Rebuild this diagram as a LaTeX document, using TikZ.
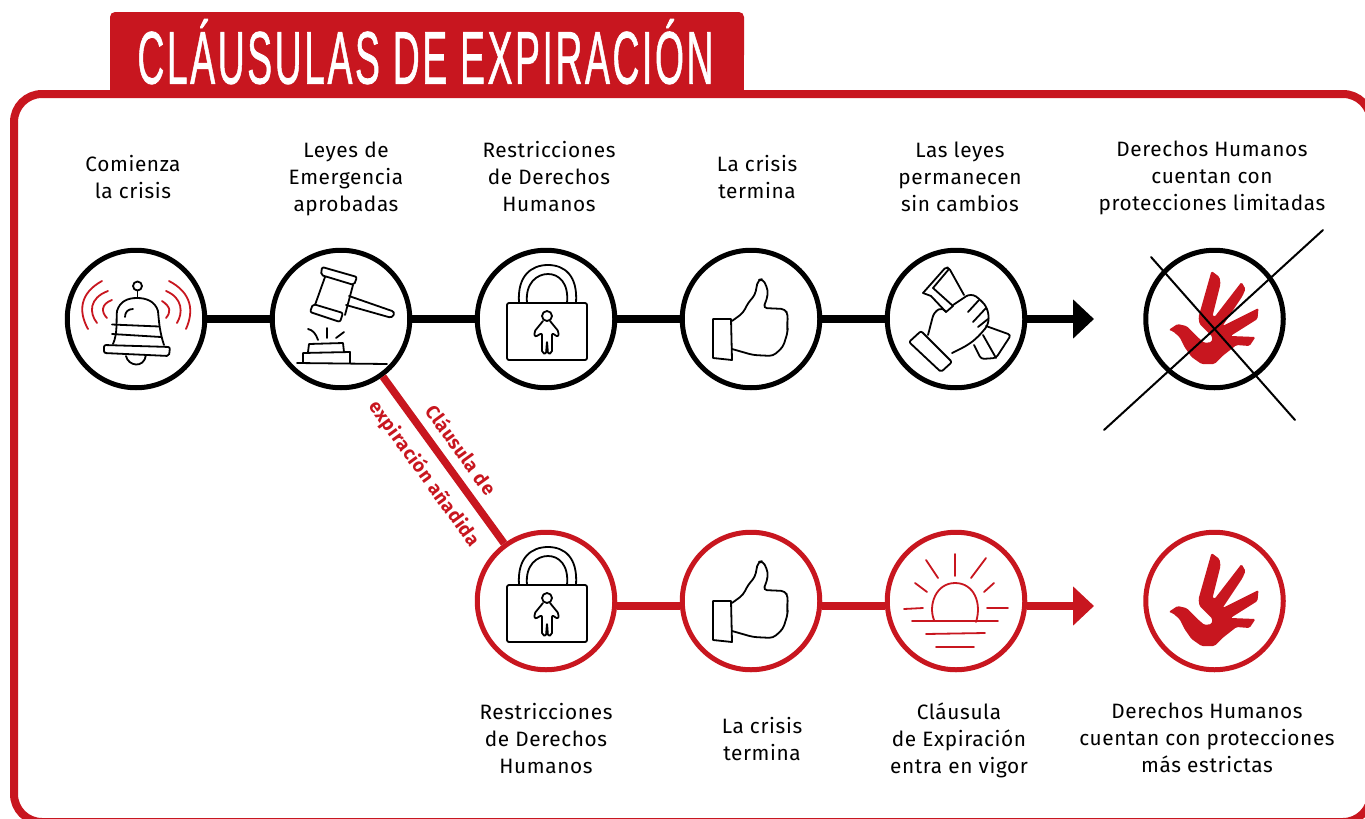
\documentclass[tikz,border=0pt]{standalone}
\usepackage{fontspec}
\setmainfont[LetterSpace=3]{Fira Sans}
\newfontfamily\titlefont[LetterSpace=7,FakeBold=1.2]{Liberation Sans}
\newfontfamily\slantfont[LetterSpace=3]{Fira Sans}
\usepackage{tikz}
\usetikzlibrary{positioning,arrows.meta,calc}
\definecolor{crimson}{HTML}{C8161F}
\tikzset{
  sketch/.style={line width=1.8pt, line join=round, line cap=round},
  pics/bellicon/.style={code={
    \draw[sketch, fill=white] (1.5,-33) circle (4.5);
    \draw[sketch] (1.5,-28.5) -- (1.5,-22);
    \draw[sketch] (-23,25) .. controls (-18,14) and (-20,0) .. (-19,-8)
      .. controls (-16,-18) and (-8,-21) .. (1,-21)
      .. controls (10,-21) and (19,-18) .. (22,-8)
      .. controls (23,4) and (24,14) .. (28,26);
    \draw[sketch] (-24,5.5) -- (23,7.5);
    \draw[sketch] (-24,15) -- (25,18);
    \draw[sketch, rounded corners=2pt] (-32,26) -- (-32,34) -- (33,37) -- (34,28) -- cycle;
    \draw[sketch] (-10,37) .. controls (-8,47) and (8,50) .. (10,36);
    \draw[sketch] (-11,-2) .. controls (-11,-7) and (-8,-10) .. (-3,-10);
    \draw[sketch, crimson] (-34,-38) .. controls (-56,-26) and (-58,-8) .. (-48,10);
    \draw[sketch, crimson] (-28,-28) .. controls (-47,-21) and (-47,-6) .. (-39,4);
    \draw[sketch, crimson] (-24,-19) .. controls (-35,-15) and (-35,-7) .. (-29,-1);
    \draw[sketch, crimson] (33,-38) .. controls (56,-26) and (58,-8) .. (50,10);
    \draw[sketch, crimson] (30,-28) .. controls (47,-21) and (47,-6) .. (41,4);
    \draw[sketch, crimson] (26,-18) .. controls (35,-12) and (35,-7) .. (30,-1);
  }},
  pics/gavelicon/.style={code={
    \draw[sketch, rounded corners=2pt] (-19,-52) -- (16,-42) -- (13,-34) -- (-20,-44) -- cycle;
    \draw[sketch] (-16,-42) -- (-26,-14);
    \draw[sketch] (12,-34) -- (4,-4);
    \draw[sketch, rounded corners=2pt] (-28,-15) -- (2,-6) -- (-1,3) -- (-31,-7) -- cycle;
    \draw[sketch, rounded corners=3pt] (8,-23) -- (54,-7) -- (51,-1) -- (5,-14);
    \draw[sketch] (-33,33) -- (-32,25) -- (2,24) -- (3,33);
    \draw[sketch] (-38,44) -- (-38,34) -- (9,33) -- (9,44);
    \draw[sketch] (-44,44) -- (46,45);
    \draw[sketch] (-33,10) .. controls (-28,11) and (-25,15) .. (-23,21);
    \draw[sketch] (-14,9) -- (-14,19);
    \draw[sketch] (3,13) -- (-5,19);
  }},
  pics/lockicon/.style={code={
    \draw[sketch, rounded corners=2pt] (-39,-16) rectangle (41,41);
    \draw[sketch] (-27,-16) .. controls (-29,-44) and (-14,-54) .. (2,-54)
      .. controls (18,-54) and (32,-44) .. (30,-16);
    \draw[sketch] (-19,-16) .. controls (-21,-36) and (-9,-45) .. (2,-45)
      .. controls (13,-45) and (23,-36) .. (21,-16);
    \draw[sketch] (1,-3) circle (5);
    \draw[sketch, rounded corners=2pt] (-3,2) -- (-12,13) -- (-11,18) -- (-4,14) -- (-4,34)
      -- (0,35) -- (1,22) -- (2,35) -- (6,34) -- (6,14) -- (12,18) -- (13,13) -- (4,2);
  }},
  pics/thumbicon/.style={code={
    \draw[sketch] (-38,0) -- (-20,0) -- (-19,41) -- (-38,39) -- cycle;
    \draw[sketch, rounded corners=4pt] (-19,2) -- (-8,-6) -- (-3,-16) -- (4,-24) -- (7,-39)
      -- (12,-40) -- (17,-29) -- (16,-20) -- (12,-11) -- (34,-10) -- (37,-4) -- (36,7)
      -- (37,12) -- (32,28) -- (22,37) -- (2,36) -- (-19,30);
  }},
  pics/handsicon/.style={code={
    \draw[sketch, rounded corners=2pt] (-47,23) -- (-35,12) -- (-4,43) -- (-15,53) -- cycle;
    \draw[sketch, rounded corners=5pt] (-28,16) -- (-22,-7) -- (-13,-12) -- (-10,-7);
    \draw[sketch, rounded corners=6pt] (-3,-14) -- (15,-26) -- (25,-19) -- (32,-10) -- (33,5)
      -- (22,18) -- (12,26) -- (-4,34);
    \draw[sketch, rounded corners=2pt] (-33,-26) -- (-10,-52) -- (-7,-51) -- (8,-24);
    \draw[sketch] (-33,-26) -- (-25,-23) -- (-10,-7) -- (-3,-13);
    \draw[sketch] (-23,-31) -- (-3,-13);
    \draw[sketch] (-23,-31) -- (-7,-50);
    \draw[sketch] (12,-7) -- (23,-19);
    \draw[sketch] (17,3) -- (30,-11);
    \draw[sketch] (22,8) -- (32,0);
    \draw[sketch, rounded corners=3pt] (30,7) -- (55,16) -- (40,39) -- (25,40) -- (18,26);
    \draw[sketch] (27,16) -- (40,39);
  }},
  pics/dovehand/.style={code={
    \fill[crimson, rounded corners=1.5pt] (-46,11) -- (-37,5) -- (-28,7) -- (-17,18) -- (-10,24)
      -- (-3,23) -- (-2,18) -- (-15,5) -- (-16,-2) -- (-3,-48) -- (5,-42) -- (6,-35) -- (-2,-3)
      -- (0,-2) -- (27,-37) -- (31,-30) -- (28,-23) -- (8,7) -- (44,-11) -- (43,0) -- (16,17)
      -- (41,18) -- (35,27) -- (22,26) -- (8,37) -- (0,45) -- (-13,45) -- (-23,38) -- (-30,28)
      -- (-35,18) -- (-42,12) -- cycle;
  }},
  pics/sunicon/.style={code={
    \draw[sketch, crimson] (-22,19) .. controls (-28,4) and (-20,-18) .. (-1,-18)
      .. controls (18,-18) and (26,2) .. (20,21);
    \draw[sketch, crimson] (-44,20) -- (42,20);
    \draw[sketch, crimson] (-30,33) -- (29,32);
    \draw[sketch, crimson] (-20,46) -- (18,46);
    \draw[sketch, crimson] (-52,8) -- (-33,7);
    \draw[sketch, crimson] (31,7) -- (52,7);
    \draw[sketch, crimson] (-41,-18) -- (-29,-9);
    \draw[sketch, crimson] (-30,-41) -- (-18,-23);
    \draw[sketch, crimson] (-1,-47) -- (-1,-25);
    \draw[sketch, crimson] (30,-43) -- (15,-23);
    \draw[sketch, crimson] (38,-18) -- (28,-9);
  }},
}
\begin{document}
\begin{tikzpicture}[
  x=1pt, y=-1pt,
  stage/.style={
    draw=black,
    fill=white,
    shape=circle,
    line width=5pt,
    minimum size=137.5pt,
    inner sep=0pt,
  },
  redstage/.style={
    stage,
    draw=crimson,
  },
  caption/.style={
    align=center,
    inner sep=0pt,
    font=\fontsize{20.8}{27}\selectfont,
  },
  blackline/.style={
    line width=7.5pt,
    draw=black,
  },
  redline/.style={
    line width=7.5pt,
    draw=crimson,
  },
  clauselabel/.style={
    sloped,
    inner sep=0pt,
    text=crimson,
    font=\slantfont\bfseries\fontsize{19}{22}\selectfont,
  },
  crossline/.style={
    line width=2pt,
    line cap=round,
  }]
  \useasboundingbox (0,0) rectangle (1365,819);
  \clip (0,0) rectangle (1365,819);
  \fill[white] (0,0) rectangle (1365,819);
  % frame and title
  \draw[crimson, line width=8pt, rounded corners=28pt] (14,94) rectangle (1371,822);
  \fill[crimson, rounded corners=5pt] (110,60) -- (110,12) -- (744,12) -- (744,60) -- cycle;
  \fill[crimson] (110,40) rectangle (744,97);
  \node[text=white, inner sep=0pt, anchor=south] (title) at (425.5,84.5)
    {\resizebox{576pt}{64.5pt}{\titlefont CLÁUSULAS DE EXPIRACIÓN}};
  % upper row
  \node[stage] (bell) at (136,319) {};
  \node[stage, right=62.5pt of bell] (gavel) {};
  \node[stage, right=62.5pt of gavel] (lockA) {};
  \node[stage, right=62.5pt of lockA] (thumbA) {};
  \node[stage, right=62.5pt of thumbA] (handsA) {};
  \node[stage, right=116pt of handsA] (rightsA) {};
  \coordinate (endA) at (1094,319);
  % lower row
  \node[redstage, below=139.5pt of lockA] (lockB) {};
  \node[redstage, right=62.5pt of lockB] (thumbB) {};
  \node[redstage, right=62.5pt of thumbB] (sunB) {};
  \node[redstage, right=116pt of sunB] (rightsB) {};
  \coordinate (endB) at (1094,606);
  % icons
  \pic at (bell) {bellicon};
  \pic at (gavel) {gavelicon};
  \pic at (lockA) {lockicon};
  \pic at (thumbA) {thumbicon};
  \pic at (handsA) {handsicon};
  \pic at (rightsA) {dovehand};
  \pic at (lockB) {lockicon};
  \pic at (thumbB) {thumbicon};
  \pic at (sunB) {sunicon};
  \pic at (rightsB) {dovehand};
  % connectors
  \draw[blackline] (bell) -- (gavel);
  \draw[blackline] (gavel) -- (lockA);
  \draw[blackline] (lockA) -- (thumbA);
  \draw[blackline] (thumbA) -- (handsA);
  \draw[blackline, -{Triangle[length=21pt,width=38pt]}] (handsA) -- (endA);
  \draw[redline] ($(lockB.east)+(0,5)$) -- ($(thumbB.west)+(0,5)$);
  \draw[redline] ($(thumbB.east)+(0,5)$) -- ($(sunB.west)+(0,5)$);
  \draw[redline, -{Triangle[length=21pt,width=38pt]}] ($(sunB.east)+(0,5)$) -- (endB);
  \draw[redline] (gavel) --
    node[clauselabel, pos=.51, above=9pt] {Cláusula de}
    node[clauselabel, pos=.5, below=10pt] {expiración añadida} (lockB);
  % crossed out
  \coordinate (crossA) at (1104,430);
  \coordinate (crossB) at (1323,230);
  \coordinate (crossC) at (1151,257);
  \coordinate (crossD) at (1295,420);
  \draw[crossline] (crossA) -- (crossB);
  \draw[crossline] (crossC) -- (crossD);
  % captions
  \node[caption] (capBell) at (133,177) {Comienza\\la crisis};
  \node[caption] (capGavel) at (346,179) {Leyes de\\Emergencia\\aprobadas};
  \node[caption] (capLockA) at (549,177) {Restricciones\\de Derechos\\Humanos};
  \node[caption] (capThumbA) at (757,177) {La crisis\\termina};
  \node[caption] (capHands) at (960,177) {Las leyes\\permanecen\\sin cambios};
  \node[caption] (capRightsA) at (1212,178) {Derechos Humanos\\cuentan con\\protecciones limitadas};
  \node[caption] (capLockB) at (546,739) {Restricciones\\de Derechos\\Humanos};
  \node[caption] (capThumbB) at (762,739) {La crisis\\termina};
  \node[caption] (capSun) at (959,740) {Cláusula\\de Expiración\\entra en vigor};
  \node[caption] (capRightsB) at (1207,738) {Derechos Humanos\\cuentan con protecciones\\más estrictas};
\end{tikzpicture}
\end{document}
